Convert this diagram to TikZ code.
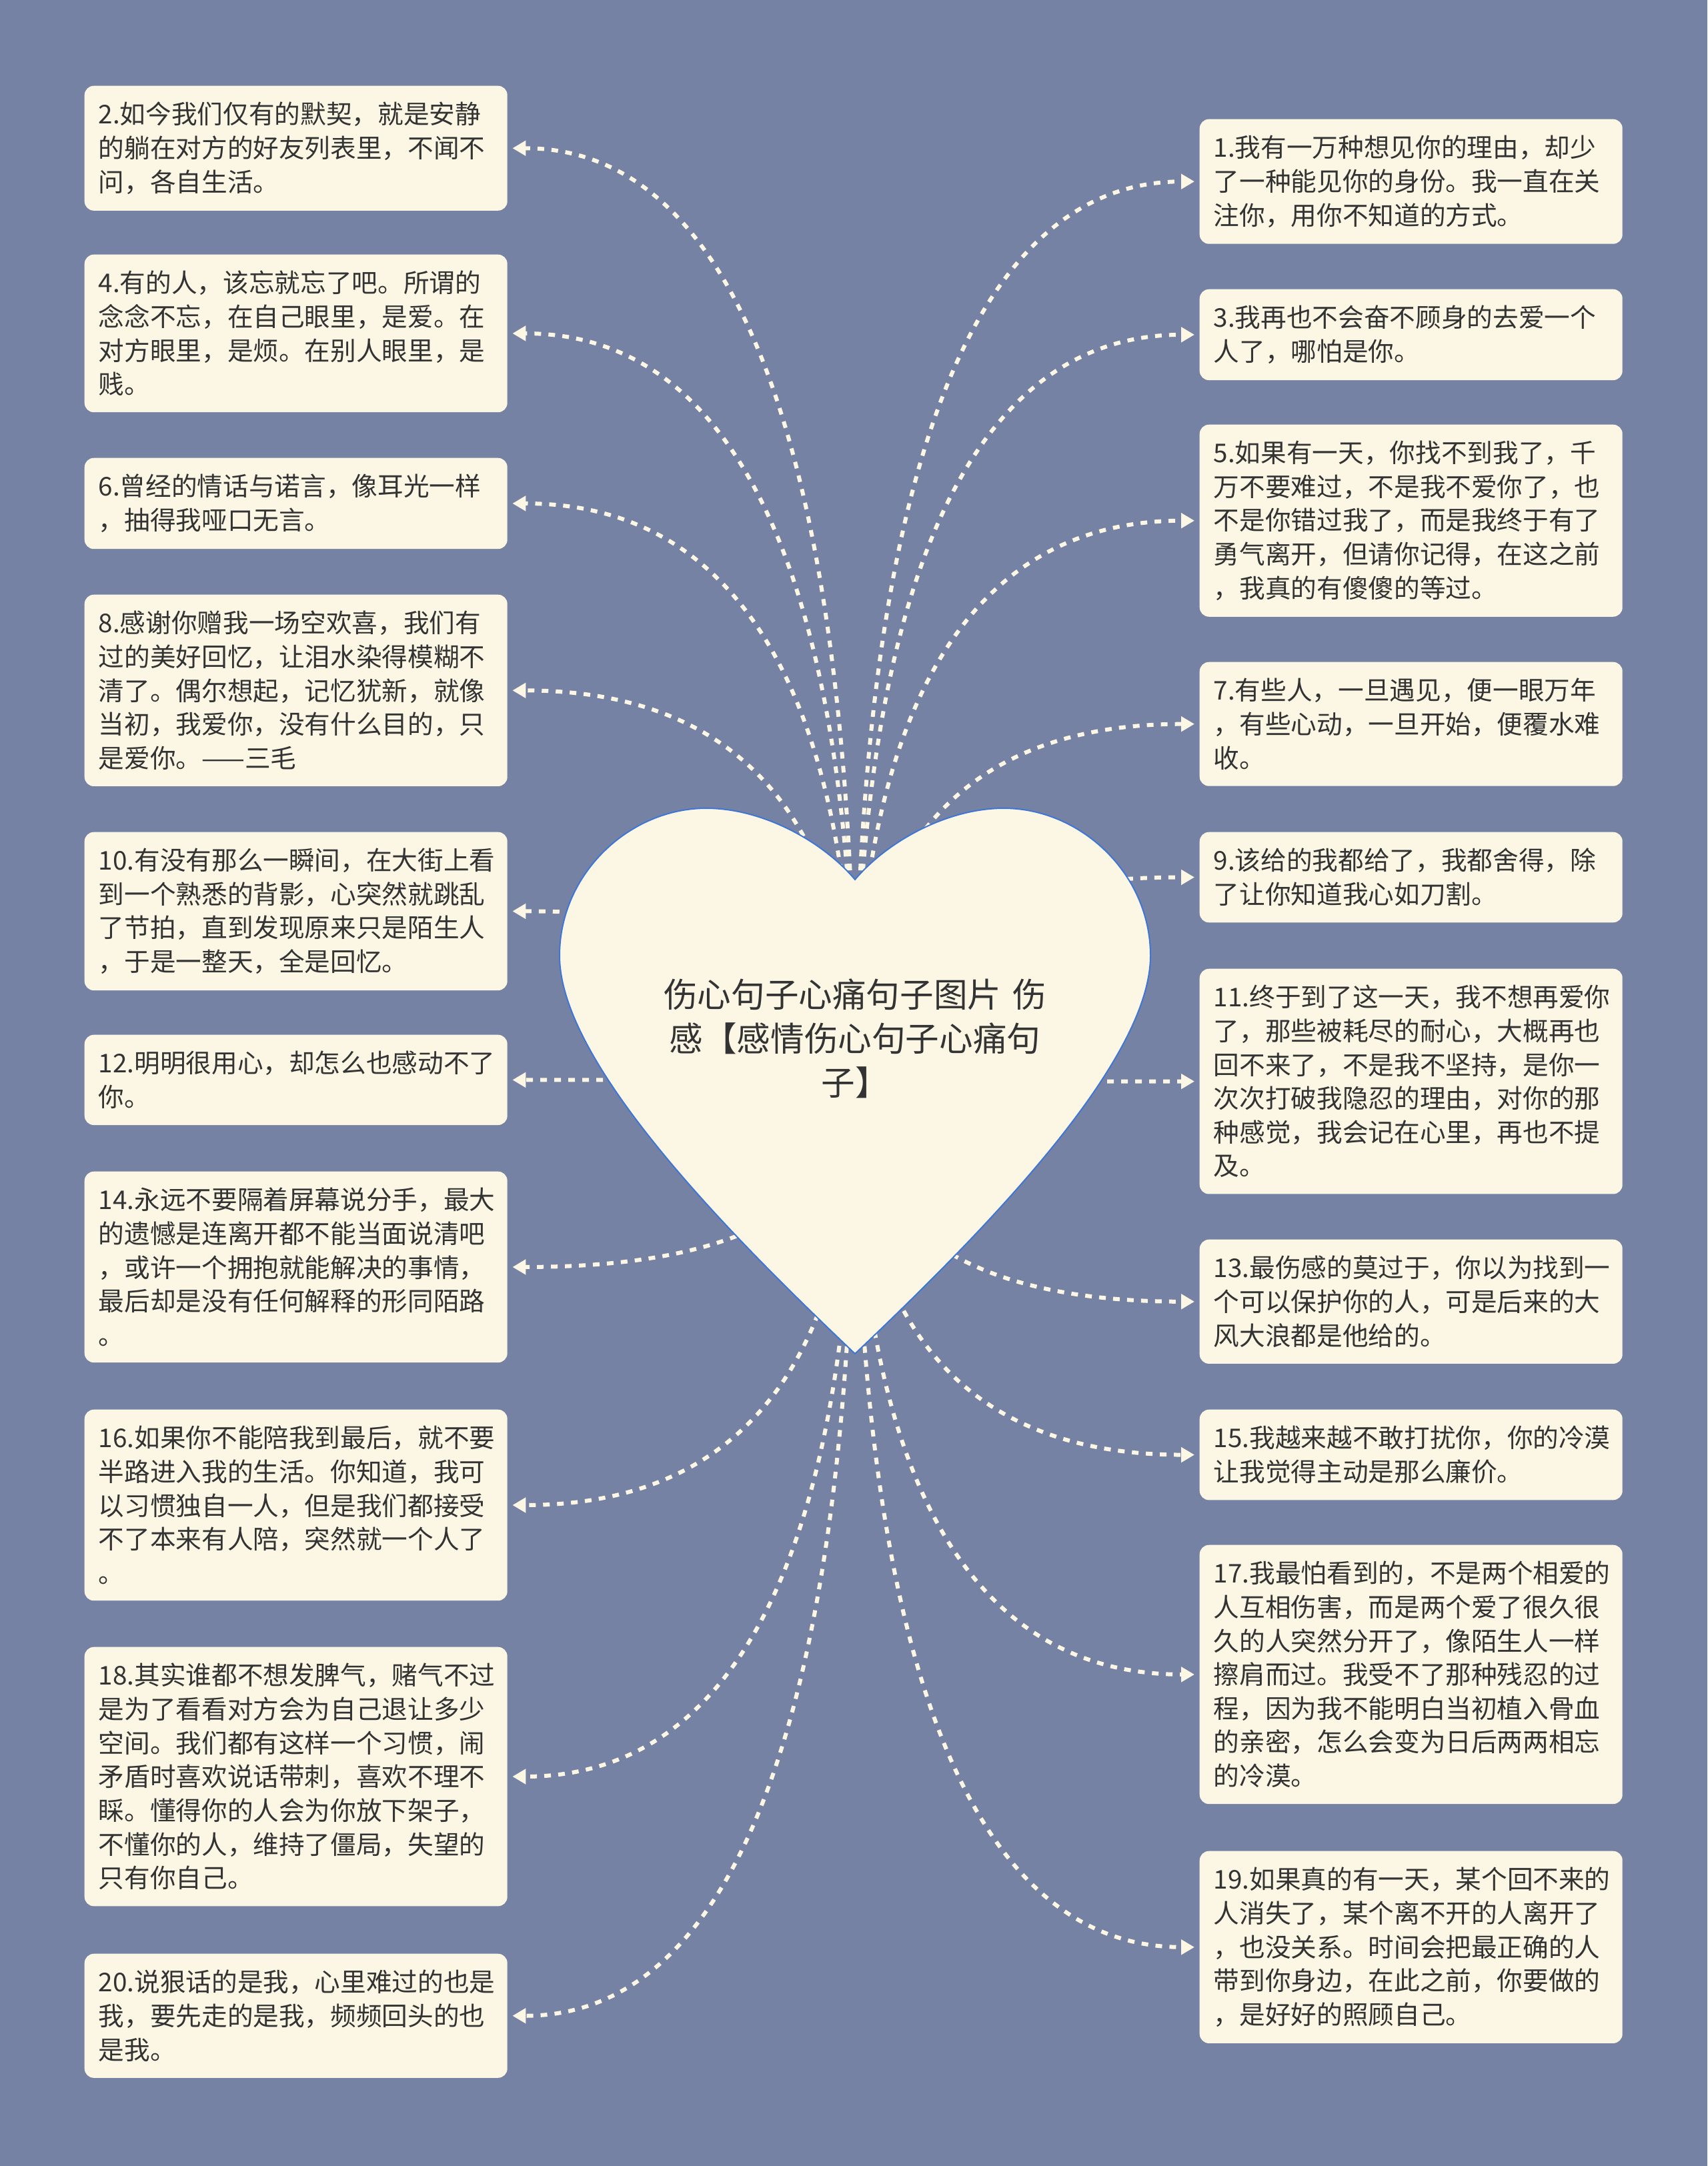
\documentclass[tikz,border=0pt]{standalone}
\usepackage{fontspec}
\usepackage{tikz}
\usetikzlibrary{arrows.meta,calc}
\setmainfont{Noto Sans CJK SC}
\definecolor{slate}{HTML}{7682A3}
\definecolor{cream}{HTML}{FBF7E4}
\definecolor{inkgray}{HTML}{333333}
\definecolor{heartblue}{HTML}{3F76D6}

\begin{document}
\begin{tikzpicture}[
    quote/.style={fill=cream, rounded corners=0.14cm, anchor=north west, text width=5.92cm, inner xsep=0.21cm, inner ysep=0.245cm, align=left, text=inkgray, font=\fontsize{11pt}{14.4pt}\selectfont},
    title/.style={text=inkgray, align=center, text width=6.2cm, font=\fontsize{14.4pt}{18.8pt}\selectfont},
    link/.style={draw=cream, line width=0.06cm, dash pattern=on 0.1cm off 0.11cm, -{Triangle[length=0.2cm, width=0.22cm]}, shorten >=0.07cm}
]
\useasboundingbox (0,0) rectangle (25.6,-32.48);
\fill[slate] (0,0) rectangle (25.6,-32.48);

% left column
\node[quote] (l2) at (1.26,-1.28) {2.如今我们仅有的默契，就是安静\\的躺在对方的好友列表里，不闻不\\问，各自生活。};
\node[quote] (l4) at (1.26,-3.81) {4.有的人，该忘就忘了吧。所谓的\\念念不忘，在自己眼里，是爱。在\\对方眼里，是烦。在别人眼里，是\\贱。};
\node[quote] (l6) at (1.26,-6.86) {6.曾经的情话与诺言，像耳光一样\\，抽得我哑口无言。};
\node[quote] (l8) at (1.26,-8.91) {8.感谢你赠我一场空欢喜，我们有\\过的美好回忆，让泪水染得模糊不\\清了。偶尔想起，记忆犹新，就像\\当初，我爱你，没有什么目的，只\\是爱你。——三毛};
\node[quote] (l10) at (1.26,-12.47) {10.有没有那么一瞬间，在大街上看\\到一个熟悉的背影，心突然就跳乱\\了节拍，直到发现原来只是陌生人\\，于是一整天，全是回忆。};
\node[quote] (l12) at (1.26,-15.51) {12.明明很用心，却怎么也感动不了\\你。};
\node[quote] (l14) at (1.26,-17.56) {14.永远不要隔着屏幕说分手，最大\\的遗憾是连离开都不能当面说清吧\\，或许一个拥抱就能解决的事情，\\最后却是没有任何解释的形同陌路\\。};
\node[quote] (l16) at (1.26,-21.13) {16.如果你不能陪我到最后，就不要\\半路进入我的生活。你知道，我可\\以习惯独自一人，但是我们都接受\\不了本来有人陪，突然就一个人了\\。};
\node[quote] (l18) at (1.26,-24.69) {18.其实谁都不想发脾气，赌气不过\\是为了看看对方会为自己退让多少\\空间。我们都有这样一个习惯，闹\\矛盾时喜欢说话带刺，喜欢不理不\\睬。懂得你的人会为你放下架子，\\不懂你的人，维持了僵局，失望的\\只有你自己。};
\node[quote] (l20) at (1.26,-29.29) {20.说狠话的是我，心里难过的也是\\我，要先走的是我，频频回头的也\\是我。};

% right column
\node[quote] (r1) at (17.98,-1.78) {1.我有一万种想见你的理由，却少\\了一种能见你的身份。我一直在关\\注你，用你不知道的方式。};
\node[quote] (r3) at (17.98,-4.33) {3.我再也不会奋不顾身的去爱一个\\人了，哪怕是你。};
\node[quote] (r5) at (17.98,-6.36) {5.如果有一天，你找不到我了，千\\万不要难过，不是我不爱你了，也\\不是你错过我了，而是我终于有了\\勇气离开，但请你记得，在这之前\\，我真的有傻傻的等过。};
\node[quote] (r7) at (17.98,-9.92) {7.有些人，一旦遇见，便一眼万年\\，有些心动，一旦开始，便覆水难\\收。};
\node[quote] (r9) at (17.98,-12.47) {9.该给的我都给了，我都舍得，除\\了让你知道我心如刀割。};
\node[quote] (r11) at (17.98,-14.52) {11.终于到了这一天，我不想再爱你\\了，那些被耗尽的耐心，大概再也\\回不来了，不是我不坚持，是你一\\次次打破我隐忍的理由，对你的那\\种感觉，我会记在心里，再也不提\\及。};
\node[quote] (r13) at (17.98,-18.58) {13.最伤感的莫过于，你以为找到一\\个可以保护你的人，可是后来的大\\风大浪都是他给的。};
\node[quote] (r15) at (17.98,-21.13) {15.我越来越不敢打扰你，你的冷漠\\让我觉得主动是那么廉价。};
\node[quote] (r17) at (17.98,-23.16) {17.我最怕看到的，不是两个相爱的\\人互相伤害，而是两个爱了很久很\\久的人突然分开了，像陌生人一样\\擦肩而过。我受不了那种残忍的过\\程，因为我不能明白当初植入骨血\\的亲密，怎么会变为日后两两相忘\\的冷漠。};
\node[quote] (r19) at (17.98,-27.75) {19.如果真的有一天，某个回不来的\\人消失了，某个离不开的人离开了\\，也没关系。时间会把最正确的人\\带到你身边，在此之前，你要做的\\，是好好的照顾自己。};

% links start behind the heart
\coordinate (hub) at (12.82,-16.2);
\foreach \n in {l2,l4,l6,l8,l10,l12,l14,l16,l18,l20}
    \draw[link] (hub) .. controls ($(hub)!2/3!(hub |- \n.east)$) and ($(\n.east)!2/3!(hub |- \n.east)$) .. (\n.east);
\foreach \n in {r1,r3,r5,r7,r9,r11,r13,r15,r17,r19}
    \draw[link] (hub) .. controls ($(hub)!2/3!(hub |- \n.west)$) and ($(\n.west)!2/3!(hub |- \n.west)$) .. (\n.west);

% heart
\filldraw[fill=cream, draw=heartblue, line width=0.02cm] (12.82,-13.19)
    .. controls (13.30,-12.62) and (14.20,-12.12) .. (15.05,-12.12)
    .. controls (16.20,-12.12) and (17.25,-13.10) .. (17.25,-14.33)
    .. controls (17.25,-16.00) and (14.50,-18.70) .. (12.82,-20.30)
    .. controls (11.14,-18.70) and (8.39,-16.00) .. (8.39,-14.33)
    .. controls (8.39,-13.10) and (9.44,-12.12) .. (10.59,-12.12)
    .. controls (11.44,-12.12) and (12.34,-12.62) .. (12.82,-13.19) -- cycle;
\node[title] (main) at (12.82,-15.57) {伤心句子心痛句子图片 伤\\感【感情伤心句子心痛句\\子】};
\end{tikzpicture}
\end{document}
